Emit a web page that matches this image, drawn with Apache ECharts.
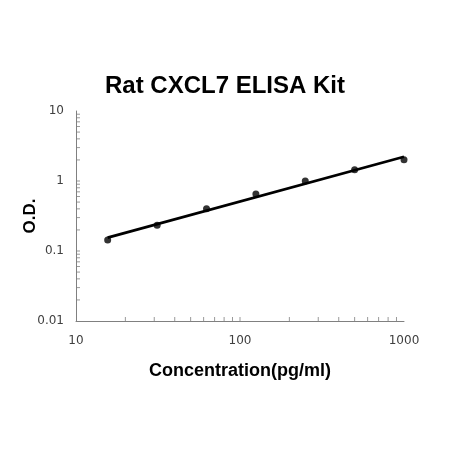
<!DOCTYPE html>
<html>
<head>
<meta charset="utf-8">
<script src="https://cdn.jsdelivr.net/npm/echarts@6/dist/echarts.min.js"></script>
<style>
html, body { margin: 0; padding: 0; background: #fff; }
#main { width: 450px; height: 450px; }
</style>
</head>
<body>
<div id="main"></div>
<script>
// standard concentrations and measured O.D.
var conc = [15.6, 31.25, 62.5, 125, 250, 500, 1000];
var od = [0.144, 0.233, 0.40, 0.65, 1.0, 1.45, 2.02];
// fitted curve end points
var fitConc = [15.6, 1000];
var fitOd = [0.155, 2.22];
// minor tick values (drawn inside the plot)
var xTicks = [20, 30, 40, 50, 60, 70, 80, 90, 100, 200, 300, 400, 500, 600, 700, 800, 900];
var yTicks = [0.02, 0.03, 0.04, 0.05, 0.06, 0.07, 0.08, 0.09, 0.1, 0.2, 0.3, 0.4, 0.5, 0.6, 0.7, 0.8, 0.9,
    1, 2, 3, 4, 5, 6, 7, 8, 9];

var points = [];
for (var i = 0; i < conc.length; i++) {
    points.push([conc[i], od[i]]);
}
var fit = [];
for (var j = 0; j < fitConc.length; j++) {
    fit.push([fitConc[j], fitOd[j]]);
}
var xTickMarks = xTicks.map(function (v) { return [v, 0.01]; });
var yTickMarks = yTicks.map(function (v) { return [10, v]; });

function plainLabel(v) {
    return String(+Number(v).toPrecision(6));
}

var chart = echarts.init(document.getElementById('main'));
chart.setOption({
    animation: false,
    title: {
        text: 'Rat CXCL7 ELISA Kit',
        left: 'center',
        top: 69,
        textStyle: {
            fontFamily: 'Liberation Sans',
            fontWeight: 'bold',
            fontSize: 24,
            color: '#000'
        }
    },
    grid: {
        left: 76,
        right: 46,
        top: 111,
        bottom: 129
    },
    xAxis: {
        type: 'log',
        logBase: 10,
        min: 10,
        max: 1000,
        name: 'Concentration(pg/ml)',
        nameLocation: 'middle',
        nameGap: 41,
        nameTextStyle: {
            fontFamily: 'Liberation Sans',
            fontWeight: 'bold',
            fontSize: 18,
            color: '#000'
        },
        axisLine: { lineStyle: { color: '#808080', width: 1 } },
        axisTick: { show: false },
        axisLabel: {
            fontFamily: 'DejaVu Sans',
            fontSize: 12,
            color: '#404040',
            margin: 14,
            formatter: plainLabel
        },
        splitLine: { show: false }
    },
    yAxis: {
        type: 'log',
        logBase: 10,
        min: 0.01,
        max: 10,
        name: 'O.D.',
        nameLocation: 'middle',
        nameGap: 37,
        nameMoveOverlap: false,
        nameTextStyle: {
            fontFamily: 'Liberation Sans',
            fontWeight: 'bold',
            fontSize: 17,
            color: '#000'
        },
        axisLine: { lineStyle: { color: '#808080', width: 1 } },
        axisTick: { show: false },
        axisLabel: {
            fontFamily: 'DejaVu Sans',
            fontSize: 12,
            color: '#404040',
            margin: 12,
            formatter: plainLabel
        },
        splitLine: { show: false }
    },
    series: [
        {
            type: 'scatter',
            data: xTickMarks,
            symbol: 'rect',
            symbolSize: [1, 4],
            symbolOffset: [0, -2],
            itemStyle: { color: '#808080' },
            silent: true
        },
        {
            type: 'scatter',
            data: yTickMarks,
            symbol: 'rect',
            symbolSize: [4, 1],
            symbolOffset: [2, 0],
            itemStyle: { color: '#808080' },
            silent: true
        },
        {
            type: 'line',
            data: fit,
            symbol: 'none',
            lineStyle: { color: '#000', width: 2.8 }
        },
        {
            type: 'scatter',
            data: points,
            symbolSize: 7,
            itemStyle: { color: '#000' }
        }
    ]
});
</script>
</body>
</html>
